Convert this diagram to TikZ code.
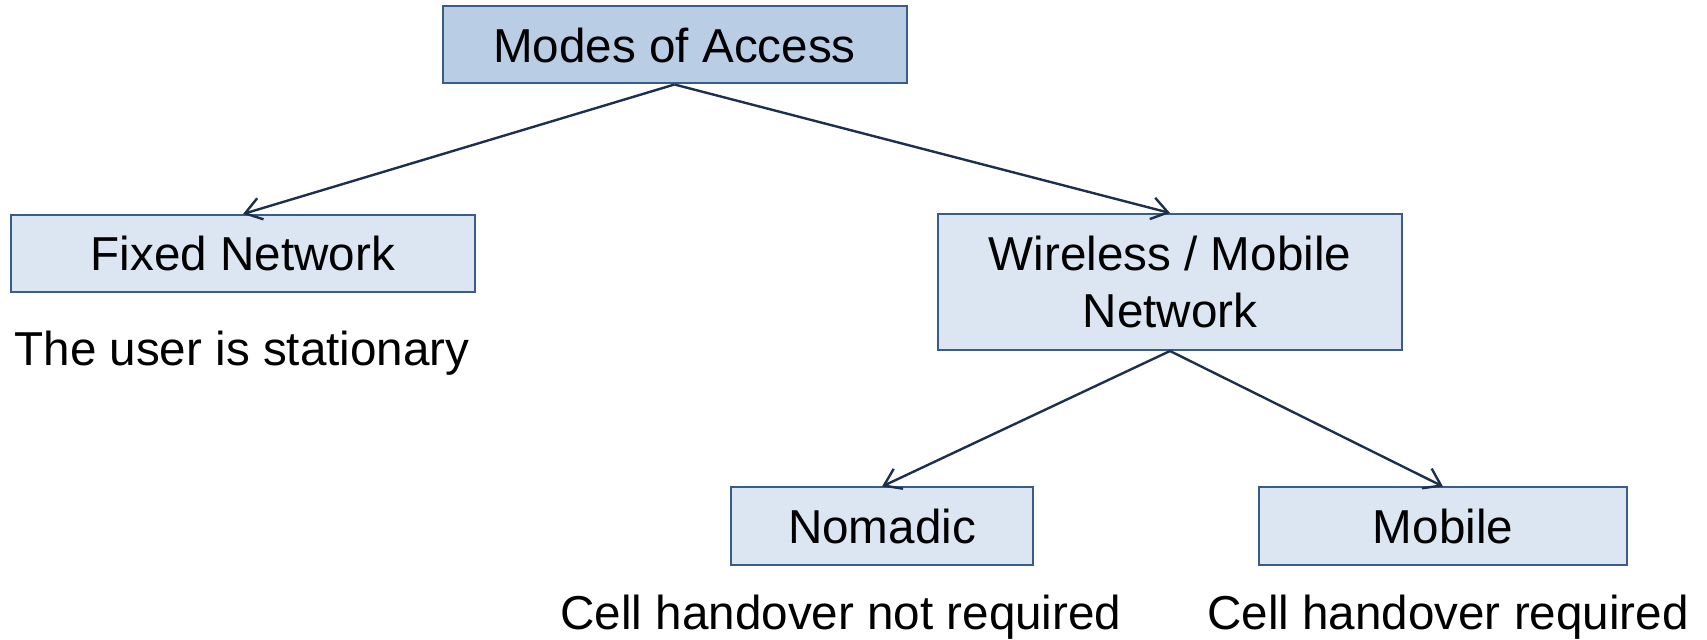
\documentclass[tikz,border=0pt]{standalone}
\usepackage{fontspec}
\setmainfont{Liberation Sans}
\usetikzlibrary{arrows.meta}

\definecolor{boxline}{HTML}{385D8A}
\definecolor{topfill}{HTML}{B9CDE5}
\definecolor{boxfill}{HTML}{DCE6F2}
\definecolor{linkline}{HTML}{1C2F4F}

\begin{document}
\begin{tikzpicture}[x=0.5pt,y=0.5pt,font=\fontsize{23.8}{28.5}\selectfont,
  box/.style={draw=boxline,line width=1pt,fill=boxfill,inner sep=0pt,
    minimum width=232pt,minimum height=38.5pt,align=center},
  note/.style={anchor=base},
  link/.style={draw=linkline,line width=1.2pt,-{Straight Barb[length=8pt,width=11pt]}}]
\useasboundingbox (0,0) rectangle (1707,-640);

% boxes
\node[box,fill=topfill] (modes) at (674.5,-45) {Modes of Access};
\node[box] (fixed) at (243,-253.5) {Fixed Network};
\node[box,minimum height=68pt] (wireless) at (1170,-282) {Wireless / Mobile\\Network};
\node[box,minimum width=151pt] (nomadic) at (882,-526) {Nomadic};
\node[box,minimum width=184pt] (mobile) at (1443,-526) {Mobile};

% notes under the boxes
\node[note] (fixednote) at (242,-366) {The user is stationary};
\node[note] (nomadicnote) at (841,-629) {Cell handover not required};
\node[note] (mobilenote) at (1448,-629) {Cell handover required};

% tree
\draw[link] (modes.south) -- (fixed.north);
\draw[link] (modes.south) -- (wireless.north);
\draw[link] (wireless.south) -- (nomadic.north);
\draw[link] (wireless.south) -- (mobile.north);
\end{tikzpicture}
\end{document}
